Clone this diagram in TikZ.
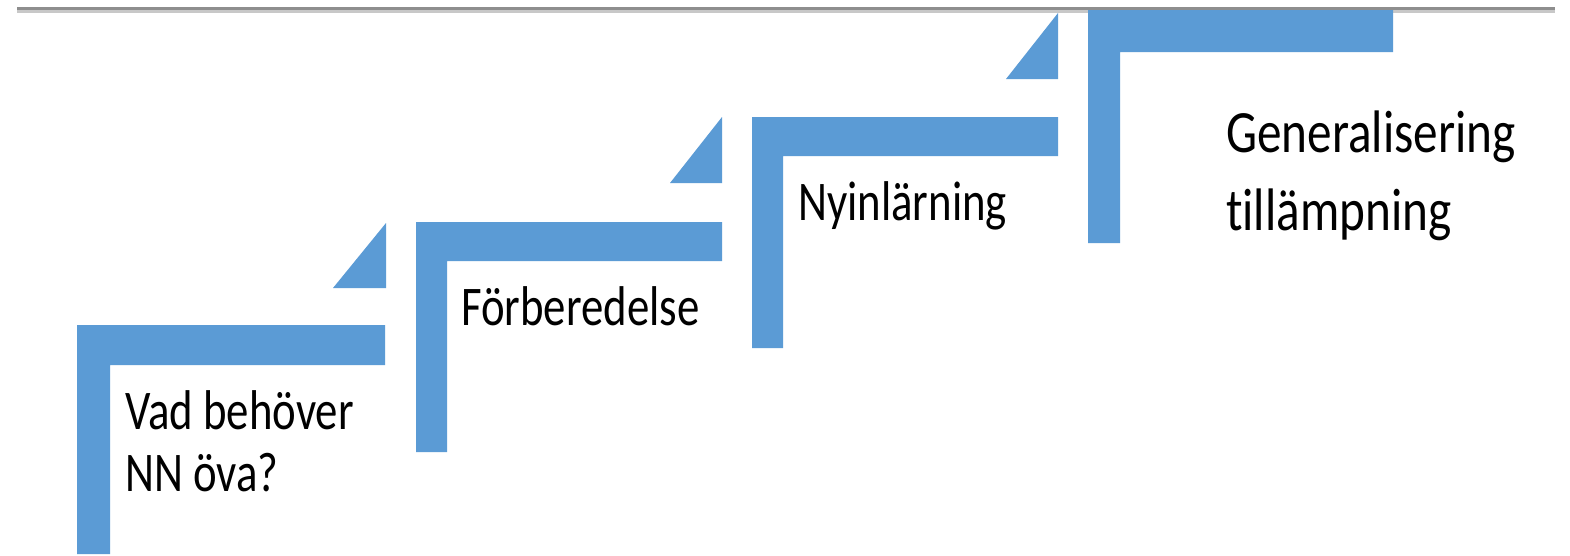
\documentclass[tikz,border=0pt]{standalone}
\usepackage{fontspec}
\setmainfont{Carlito}
\newfontfamily\condfont[FakeStretch=0.8,Ligatures=NoCommon]{Carlito}
\newfontfamily\condfontb[FakeStretch=0.82,Ligatures=NoCommon]{Carlito}
\definecolor{stepblue}{HTML}{5B9BD5}
\definecolor{linedark}{HTML}{8E8E8E}
\definecolor{linelight}{HTML}{C8C8C8}
\tikzset{
  stepfill/.style={fill=stepblue, draw=none},
  lbl/.style={anchor=base west, inner sep=0pt, font=\condfont\fontsize{56}{62}\selectfont, text=black},
  lblbig/.style={anchor=base west, inner sep=0pt, font=\condfontb\fontsize{60}{70}\selectfont, text=black}
}
\begin{document}
\begin{tikzpicture}[x=1pt, y=-1pt]
\useasboundingbox (0,0) rectangle (1570,555);
\fill[white] (0,0) rectangle (1570,555);
% top rule
\fill[linelight] (17,10) rectangle (1555,13);
\fill[linedark] (17,7) rectangle (1555,10);
% step 1
\fill[stepfill] (77,554) -- (77,325) -- (385,325) -- (385,365) -- (110,365) -- (110,554) -- cycle;
\fill[stepfill] (333,288) -- (386,288) -- (386,223) -- cycle;
% step 2
\fill[stepfill] (416,452) -- (416,222) -- (722,222) -- (722,261) -- (447,261) -- (447,452) -- cycle;
\fill[stepfill] (670,183) -- (722,183) -- (722,117) -- cycle;
% step 3
\fill[stepfill] (752,348) -- (752,117) -- (1058,117) -- (1058,156) -- (783,156) -- (783,348) -- cycle;
\fill[stepfill] (1006,79) -- (1058,79) -- (1058,13) -- cycle;
% step 4
\fill[stepfill] (1088,243) -- (1088,10) -- (1393,10) -- (1393,52) -- (1120,52) -- (1120,243) -- cycle;
% labels
\node[lbl] (t1a) at (125,429) {Vad behöver};
\node[lbl] (t1b) at (125,491) {NN öva?};
\node[lbl] (t2) at (461,325) {Förberedelse};
\node[lbl] (t3) at (798,220) {Nyinlärning};
\node[lblbig] (t4a) at (1226,152) {Generalisering};
\node[lblbig] (t4b) at (1226,230) {tillämpning};
\end{tikzpicture}
\end{document}
